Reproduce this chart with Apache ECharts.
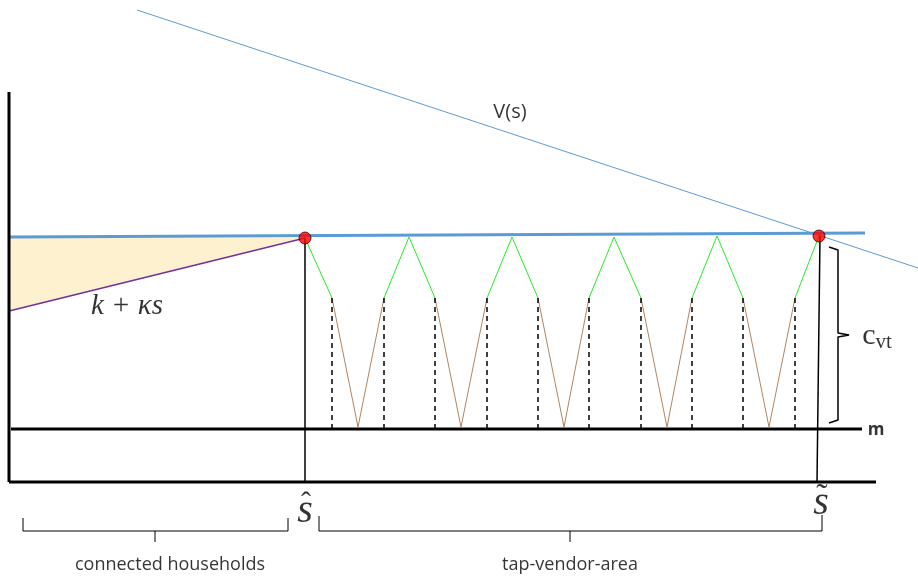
<!DOCTYPE html>
<html>
<head>
<meta charset="utf-8">
<script src="https://cdn.jsdelivr.net/npm/echarts@6/dist/echarts.min.js"></script>
<style>
  html, body { margin: 0; padding: 0; background: #fff; }
  #main { width: 918px; height: 578px; }
</style>
</head>
<body>
<div id="main"></div>
<script>
// diagram geometry, x = distance s, y = cost (measured upward)
var yAxisLine = [[9, 486], [9, 96]];
var xAxisLine = [[9, 96], [876, 96]];
var mLine = [[11, 149], [862, 149]];
var ceilingLine = [[9, 341], [865, 345]];
var valueLine = [[137, 568], [918, 310]];
var kappaLine = [[9, 267], [305, 340]];
var dots = [[305, 340], [819, 342]];
var sHatLine = [[305, 340], [305, 96]];
var sTildeLine = [[820, 342], [817, 96]];

// tap vendor trips
var peakX = [305, 409, 512, 614, 717, 819];
var peakY = [340, 341, 341, 341, 342, 342];
var lowX = [332, 384, 435, 487, 538, 589, 641, 692, 743, 795];
var lowY = 280;
var bottomX = [358, 461, 564, 667, 769];
var bottomY = 151;

// braces
var cvtBrace = [[829, 331], [838, 328], [838, 245], [849, 243], [838, 241], [838, 158], [829, 155]];
var leftBrace = [[23, 60], [23, 47], [288, 47], [288, 60]];
var leftTick = [[155, 47], [155, 36]];
var rightBrace = [[319, 62], [319, 47], [822, 47], [822, 63]];
var rightTick = [[570, 47], [570, 36]];

var myChart = echarts.init(document.getElementById('main'));

var line = function (data, color, width, type) {
    return {
        type: 'line',
        data: data,
        showSymbol: false,
        silent: true,
        animation: false,
        lineStyle: { color: color, width: width, type: type || 'solid' },
        z: 3
    };
};

var series = [];

// yellow area between ceiling and k + ks
series.push({
    type: 'custom',
    silent: true,
    animation: false,
    data: [0],
    z: 1,
    renderItem: function (params, api) {
        var pts = [
            api.coord(ceilingLine[0]),
            api.coord(kappaLine[1]),
            api.coord(kappaLine[0])
        ];
        return { type: 'polygon', shape: { points: pts }, style: { fill: '#fdf1cf' } };
    }
});

series.push(line(valueLine, '#5b9bd5', 1));
series.push(line(kappaLine, '#7030a0', 1.5));
series.push(line(sHatLine, '#000', 1.5));
series.push(line(sTildeLine, '#000', 1.5));

// trips: green from ceiling down, brown to the tap and back
for (var i = 0; i < bottomX.length; i++) {
    series.push(line([[peakX[i], peakY[i]], [lowX[2 * i], lowY]], '#22ee22', 1));
    series.push(line([[lowX[2 * i + 1], lowY], [peakX[i + 1], peakY[i + 1]]], '#22ee22', 1));
    series.push(line([[lowX[2 * i], lowY], [bottomX[i], bottomY], [lowX[2 * i + 1], lowY]], '#b08560', 1));
}
for (var j = 0; j < lowX.length; j++) {
    series.push(line([[lowX[j], lowY], [lowX[j], bottomY - 2]], '#000', 1.5, [5, 4]));
}

series.push(line(ceilingLine, '#5b9bd5', 3));
series.push(line(mLine, '#000', 3));
series.push(line(yAxisLine, '#000', 3));
series.push(line(xAxisLine, '#000', 3));
series.push(line(cvtBrace, '#000', 1.5));
series.push(line(leftBrace, '#000', 1));
series.push(line(leftTick, '#000', 1));
series.push(line(rightBrace, '#000', 1));
series.push(line(rightTick, '#000', 1));

series.push({
    type: 'scatter',
    data: dots,
    symbolSize: 12,
    silent: true,
    animation: false,
    itemStyle: { color: '#ff0000', borderColor: '#3a0000', borderWidth: 1 },
    z: 5
});

var sans = 'Open Sans';
var serif = 'Liberation Serif';
var labels = [
    { value: [510, 466], text: 'V(s)', font: sans, size: 20 },
    { value: [127, 272], text: 'k + κs', font: serif, size: 29, italic: true },
    { value: [876, 148], text: 'm', font: sans, size: 17, bold: true },
    { value: [877, 242], text: '{c|c}{v|vt}' },
    { value: [305, 67], text: 's', font: serif, size: 40, italic: true },
    { value: [306, 74], text: 'ˆ', font: serif, size: 30 },
    { value: [821, 75], text: 's', font: serif, size: 40, italic: true },
    { value: [822, 80], text: '˜', font: serif, size: 34 },
    { value: [170, 13], text: 'connected households', font: sans, size: 18 },
    { value: [570, 13], text: 'tap-vendor-area', font: sans, size: 18 }
];

series.push({
    type: 'scatter',
    symbolSize: 0,
    silent: true,
    animation: false,
    z: 6,
    data: labels.map(function (l) {
        return {
            value: l.value,
            label: {
                show: true,
                position: 'inside',
                align: 'center',
                verticalAlign: 'middle',
                formatter: l.text,
                color: '#000',
                fontFamily: l.font || sans,
                fontSize: l.size || 14,
                fontStyle: l.italic ? 'italic' : 'normal',
                fontWeight: l.bold ? 'bold' : 'normal',
                rich: {
                    c: { fontFamily: serif, fontSize: 30, color: '#000', lineHeight: 34 },
                    v: { fontFamily: serif, fontSize: 21, color: '#000', verticalAlign: 'bottom', lineHeight: 34 }
                }
            }
        };
    })
});

var option = {
    backgroundColor: '#fff',
    animation: false,
    grid: { left: 0, right: 0, top: 0, bottom: 0 },
    xAxis: { type: 'value', min: 0, max: 918, show: false },
    yAxis: { type: 'value', min: 0, max: 578, show: false },
    series: series
};

myChart.setOption(option);
</script>
</body>
</html>
